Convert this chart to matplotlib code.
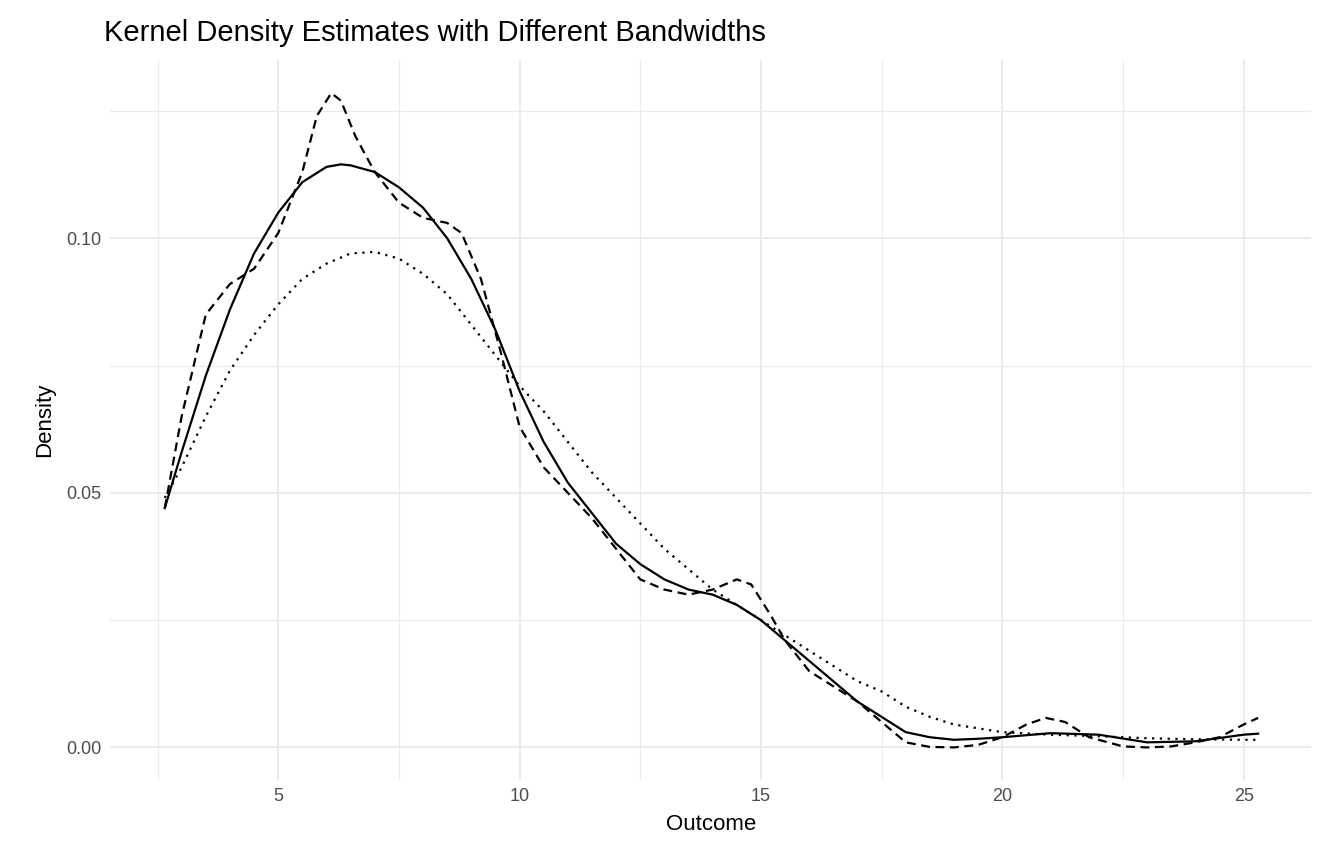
import matplotlib
matplotlib.use("Agg")
import matplotlib.pyplot as plt
from matplotlib.ticker import MultipleLocator

plt.rcParams["font.family"] = ["Liberation Sans", "DejaVu Sans"]

# values
x_default = [2.65, 3, 3.5, 4, 4.5, 5, 5.5, 6, 6.3, 6.5, 7, 7.5, 8, 8.5, 9, 9.5, 10, 10.5, 11, 11.5,
             12, 12.5, 13, 13.5, 14, 14.5, 15, 15.5, 16, 16.5, 17, 17.5, 18, 18.5, 19, 19.5, 20,
             21, 22, 23, 24, 25, 25.3]
y_default = [0.047, 0.058, 0.073, 0.086, 0.097, 0.105, 0.111, 0.114, 0.1145, 0.1143, 0.113, 0.110,
             0.106, 0.100, 0.092, 0.082, 0.070, 0.060, 0.052, 0.046, 0.040, 0.036, 0.033, 0.031,
             0.030, 0.028, 0.025, 0.021, 0.017, 0.013, 0.009, 0.006, 0.003, 0.002, 0.0015, 0.0017,
             0.002, 0.0028, 0.0025, 0.001, 0.0012, 0.0025, 0.0027]

x_narrow = [2.65, 3, 3.5, 4, 4.5, 5, 5.5, 5.8, 6.1, 6.3, 6.6, 7, 7.5, 8, 8.5, 8.8, 9.2, 9.6, 10,
            10.5, 11, 11.5, 12, 12.5, 13, 13.5, 14, 14.5, 14.8, 15.2, 15.5, 16, 16.5, 17, 17.5,
            18, 18.5, 19, 19.5, 20, 20.5, 20.9, 21.3, 21.8, 22.5, 23, 23.5, 24, 24.5, 25, 25.3]
y_narrow = [0.047, 0.065, 0.085, 0.091, 0.094, 0.101, 0.113, 0.124, 0.1285, 0.127, 0.120, 0.113,
            0.107, 0.104, 0.103, 0.101, 0.092, 0.078, 0.063, 0.055, 0.050, 0.045, 0.039, 0.033,
            0.031, 0.030, 0.031, 0.033, 0.032, 0.026, 0.021, 0.015, 0.012, 0.009, 0.005, 0.001,
            0.0001, 0.0, 0.0005, 0.002, 0.0045, 0.0058, 0.005, 0.002, 0.0002, 0.0, 0.0002, 0.001,
            0.002, 0.0045, 0.0058]

x_wide = [2.65, 3, 3.5, 4, 4.5, 5, 5.5, 6, 6.5, 7, 7.5, 8, 8.5, 9, 9.5, 10, 10.5, 11, 11.5, 12,
          12.5, 13, 13.5, 14, 14.5, 15, 15.5, 16, 16.5, 17, 17.5, 18, 18.5, 19, 20, 21, 22, 23,
          24, 25, 25.3]
y_wide = [0.049, 0.055, 0.065, 0.074, 0.081, 0.087, 0.092, 0.095, 0.097, 0.0973, 0.096, 0.093,
          0.089, 0.083, 0.077, 0.071, 0.066, 0.060, 0.054, 0.049, 0.044, 0.039, 0.035, 0.031,
          0.028, 0.025, 0.022, 0.019, 0.016, 0.013, 0.011, 0.008, 0.006, 0.0045, 0.003, 0.0025,
          0.0022, 0.0018, 0.0016, 0.0015, 0.0015]

fig = plt.figure(figsize=(13.44, 8.64), dpi=100)
ax = fig.add_axes([0.082, 0.0972, 0.8936, 0.8334])

ax.plot(x_default, y_default, color="black", lw=1.6, ls="-")
ax.plot(x_narrow, y_narrow, color="black", lw=1.6, ls=(0, (4, 2.5)))
ax.plot(x_wide, y_wide, color="black", lw=1.6, ls=(0, (1, 2.5)))

ax.set_xlim(1.52, 26.4)
ax.set_ylim(-0.0064, 0.135)
ax.xaxis.set_major_locator(MultipleLocator(5))
ax.xaxis.set_minor_locator(MultipleLocator(2.5))
ax.yaxis.set_major_locator(MultipleLocator(0.05))
ax.yaxis.set_minor_locator(MultipleLocator(0.025))
ax.set_yticks([0.0, 0.05, 0.10])
ax.set_yticklabels(["0.00", "0.05", "0.10"])
ax.grid(which="major", color="#EBEBEB", lw=1.4)
ax.grid(which="minor", color="#EBEBEB", lw=0.8)
ax.set_axisbelow(True)
for s in ax.spines.values():
    s.set_visible(False)
ax.tick_params(which="both", length=0, labelsize=13, colors="#4D4D4D", pad=6)
ax.set_xlabel("Outcome", fontsize=16, labelpad=6)
ax.set_ylabel("Density", fontsize=16, labelpad=8)
ax.set_title("Kernel Density Estimates with Different Bandwidths", fontsize=21, loc="left",
             x=-0.005, pad=14)

fig.savefig("out.png", dpi=100)
